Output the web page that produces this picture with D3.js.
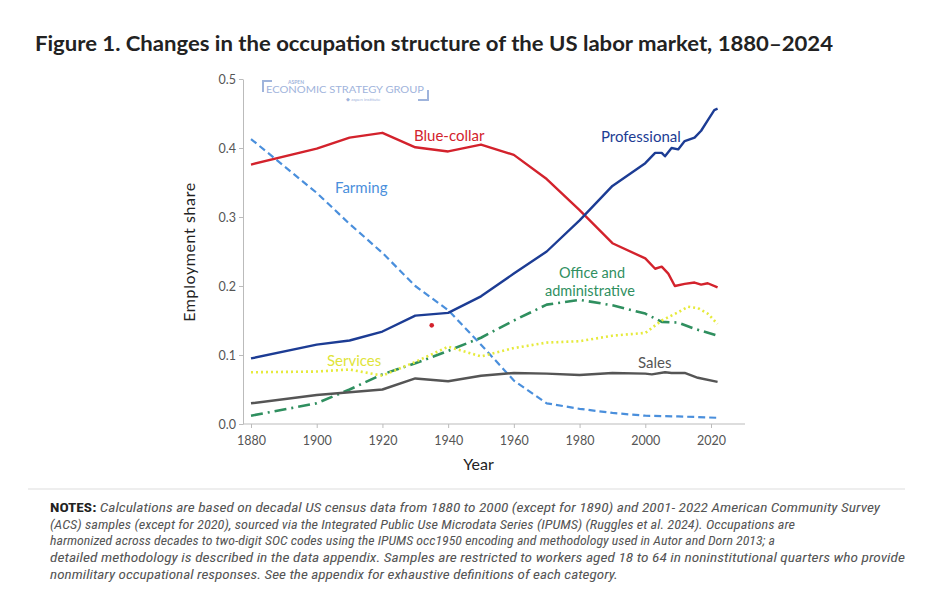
<!DOCTYPE html>
<html><head><meta charset="utf-8">
<script src="https://cdn.jsdelivr.net/npm/d3@7"></script>
<style>
body{margin:0;background:#fff;font-family:Lato,"Open Sans",sans-serif}
</style></head><body><svg></svg>
<script>
var proYears = [1880,1900,1910,1920,1930,1940,1950,1960,1970,1980,1990,2000,2003,2005,2006,2008,2010,2012,2015,2017,2019,2021,2022];
var proVals  = [.095,.115,.121,.134,.157,.161,.185,.218,.25,.295,.345,.378,.393,.393,.388,.400,.398,.41,.415,.425,.44,.455,.457];
var blueYears = [1880,1900,1910,1920,1930,1940,1950,1960,1970,1980,1990,2000,2003,2005,2007,2009,2012,2015,2017,2019,2022];
var blueVals  = [.376,.399,.415,.422,.401,.395,.405,.39,.355,.31,.262,.24,.225,.228,.218,.2,.203,.205,.202,.204,.198];
var farmYears = [1880,1900,1910,1920,1930,1940,1950,1960,1970,1980,1990,2000,2010,2022];
var farmVals  = [.413,.335,.29,.248,.2,.165,.115,.063,.03,.022,.016,.012,.011,.009];
var offYears = [1880,1900,1910,1920,1930,1940,1950,1960,1970,1980,1990,2000,2005,2010,2015,2022];
var offVals  = [.012,.03,.05,.072,.088,.106,.125,.15,.173,.18,.172,.16,.148,.147,.138,.128];
var servYears = [1880,1900,1910,1920,1930,1940,1950,1960,1970,1980,1990,2000,2005,2010,2013,2016,2019,2022];
var servVals  = [.075,.076,.079,.07,.09,.112,.098,.11,.118,.12,.128,.132,.15,.162,.17,.168,.16,.145];
var salesYears = [1880,1900,1910,1920,1930,1940,1950,1960,1970,1980,1990,2000,2002,2006,2008,2012,2016,2022];
var salesVals  = [.03,.042,.046,.05,.066,.062,.07,.074,.073,.071,.074,.073,.072,.075,.074,.074,.067,.061];
var xTicks = [1880,1900,1920,1940,1960,1980,2000,2020];
var yTicks = [0,0.1,0.2,0.3,0.4,0.5];

var series = [
  {name:"Farming", years:farmYears, vals:farmVals, color:"#4a8fdc", dash:"7,4", w:2.2, lx:335, ly:193},
  {name:"Office and administrative", years:offYears, vals:offVals, color:"#2f8f5f", dash:"12,5,2,5", w:2.6},
  {name:"Services", years:servYears, vals:servVals, color:"#e6ea3c", dash:"2,3", w:2.6, lx:327, ly:366},
  {name:"Sales", years:salesYears, vals:salesVals, color:"#555555", dash:null, w:2.4, lx:638, ly:368},
  {name:"Blue-collar", years:blueYears, vals:blueVals, color:"#d3222c", dash:null, w:2.4, lx:414, ly:141},
  {name:"Professional", years:proYears, vals:proVals, color:"#1c3c94", dash:null, w:2.4, lx:601, ly:142}
];

var W = 933, H = 608;
var svg = d3.select("svg").attr("width", W).attr("height", H);
var x = d3.scaleLinear().domain([1880,2020]).range([251,711]);
var y = d3.scaleLinear().domain([0,0.5]).range([424,79]);

svg.append("text").attr("x",35).attr("y",51).attr("font-size",21).attr("font-weight","bold")
  .attr("fill","#222").attr("textLength",798).attr("lengthAdjust","spacingAndGlyphs")
  .text("Figure 1. Changes in the occupation structure of the US labor market, 1880–2024");

var xa = svg.append("g").attr("transform","translate(0,424)")
  .call(d3.axisBottom(x).tickValues(xTicks).tickFormat(d3.format("d")).tickSize(4).tickSizeOuter(0));
xa.select(".domain").attr("d","M243,0H745");
var ya = svg.append("g").attr("transform","translate(243,0)")
  .call(d3.axisLeft(y).tickValues(yTicks).tickFormat(d3.format(".1f")).tickSize(4).tickSizeOuter(0));
svg.selectAll(".tick text").attr("font-size",12.5).attr("fill","#555").attr("font-family","Lato,sans-serif");
svg.selectAll(".domain, .tick line").attr("stroke","#bbb");
xa.selectAll(".tick text").attr("dy","1.1em");

svg.append("text").attr("x",W/2+12).attr("y",470).attr("text-anchor","middle").attr("font-size",16).attr("fill","#222").text("Year");
svg.append("text").attr("transform","translate(195,252) rotate(-90)").attr("text-anchor","middle")
  .attr("font-size",16).attr("fill","#222").attr("letter-spacing","0.6").text("Employment share");

// watermark
var wm = svg.append("g").attr("fill","#9fb4dc");
wm.append("path").attr("d","M263,92V81H272").attr("stroke","#9fb4dc").attr("stroke-width",2).attr("fill","none");
wm.append("text").attr("x",288).attr("y",84).attr("font-size",5).attr("font-weight","bold").text("ASPEN");
wm.append("text").attr("x",266).attr("y",93).attr("font-size",9).attr("textLength",158).attr("lengthAdjust","spacingAndGlyphs").text("ECONOMIC STRATEGY GROUP");
wm.append("text").attr("x",346).attr("y",101).attr("font-size",4.5).text("◆ aspen institute");
wm.append("path").attr("d","M418,100H428V90").attr("stroke","#9fb4dc").attr("stroke-width",2).attr("fill","none");

var line = d3.line().x(function(d){return x(d[0]);}).y(function(d){return y(d[1]);}).curve(d3.curveLinear);
series.forEach(function(s){
  svg.append("path").datum(d3.zip(s.years, s.vals)).attr("d", line)
    .attr("fill","none").attr("stroke", s.color).attr("stroke-width", s.w)
    .attr("stroke-dasharray", s.dash).attr("stroke-linejoin","round");
  if (s.lx) svg.append("text").attr("x",s.lx).attr("y",s.ly).attr("font-size",15)
    .attr("fill", s.color === "#e6ea3c" ? "#e0e43a" : s.color).text(s.name);
});
svg.append("text").attr("x",592).attr("y",278).attr("text-anchor","middle").attr("font-size",14.5).attr("fill","#2f8f5f").text("Office and");
svg.append("text").attr("x",590).attr("y",296).attr("text-anchor","middle").attr("font-size",14.5).attr("fill","#2f8f5f").text("administrative");
svg.append("circle").attr("cx",x(1935)).attr("cy",y(0.143)).attr("r",2.3).attr("fill","#d3222c");

svg.append("line").attr("x1",28).attr("x2",905).attr("y1",489).attr("y2",489).attr("stroke","#ddd");
var notes = [
  ["NOTES:"," Calculations are based on decadal US census data from 1880 to 2000 (except for 1890) and 2001- 2022 American Community Survey", 830],
  ["","(ACS) samples (except for 2020), sourced via the Integrated Public Use Microdata Series (IPUMS) (Ruggles et al. 2024). Occupations are", 745],
  ["","harmonized across decades to two-digit SOC codes using the IPUMS occ1950 encoding and methodology used in Autor and Dorn 2013; a", 725],
  ["","detailed methodology is described in the data appendix. Samples are restricted to workers aged 18 to 64 in noninstitutional quarters who provide", 855],
  ["","nonmilitary occupational responses. See the appendix for exhaustive definitions of each category.", 568]
];
notes.forEach(function(n,i){
  var t = svg.append("text").attr("x",50).attr("y",512+i*16.7).attr("font-size",12.5)
    .attr("font-family","'Liberation Sans Narrow','Roboto Condensed',Roboto,sans-serif").attr("fill","#555")
    .attr("textLength", n[2]).attr("lengthAdjust","spacingAndGlyphs");
  if (n[0]) t.append("tspan").attr("font-weight","bold").attr("fill","#222").text(n[0]);
  t.append("tspan").attr("font-style","italic").text(n[1]);
});
</script></body></html>
